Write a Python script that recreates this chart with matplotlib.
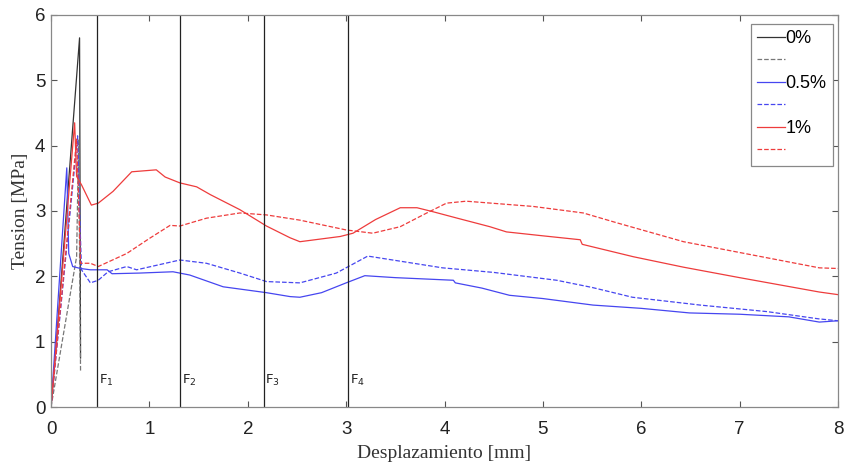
import numpy as np
import matplotlib
matplotlib.use('Agg')
import matplotlib.pyplot as plt

# ==== curves ====
# 0 %
x_0_sol = [0, 0.05, 0.29, 0.30]
y_0_sol = [0, 0.9, 5.65, 0.75]
x_0_das = [0, 0.26, 0.28, 0.30]
y_0_das = [0, 2.3, 4.1, 0.55]

# 0.5 %
x_05_sol = [0, 0.16, 0.18, 0.22, 0.30, 0.40, 0.57, 0.62, 0.90, 1.24, 1.41, 1.75,
            2.19, 2.43, 2.53, 2.75, 3.0, 3.19, 3.5, 4.09, 4.11, 4.38, 4.66, 5.0,
            5.51, 6.0, 6.49, 7.0, 7.5, 7.81, 8.0]
y_05_sol = [0, 3.66, 2.35, 2.15, 2.12, 2.1, 2.1, 2.04, 2.05, 2.07, 2.02, 1.84,
            1.75, 1.69, 1.68, 1.75, 1.90, 2.01, 1.98, 1.94, 1.90, 1.82, 1.71, 1.66,
            1.56, 1.51, 1.44, 1.42, 1.38, 1.30, 1.32]
x_05_das = [0, 0.27, 0.29, 0.31, 0.40, 0.48, 0.58, 0.77, 0.87, 1.31, 1.58, 1.92,
            2.19, 2.53, 2.9, 3.22, 3.6, 3.98, 4.5, 5.14, 5.5, 5.91, 6.6, 7.28,
            7.8, 8.0]
y_05_das = [0, 4.15, 3.0, 2.1, 1.9, 1.94, 2.07, 2.15, 2.1, 2.25, 2.2, 2.05,
            1.92, 1.90, 2.05, 2.31, 2.22, 2.13, 2.06, 1.94, 1.83, 1.68, 1.56, 1.46,
            1.35, 1.32]

# 1 %
x_1_sol = [0, 0.24, 0.26, 0.31, 0.41, 0.48, 0.63, 0.82, 1.07, 1.16, 1.31, 1.48,
           1.62, 1.92, 2.19, 2.43, 2.53, 2.94, 3.07, 3.3, 3.55, 3.72, 3.88, 4.13,
           4.46, 4.63, 5.0, 5.38, 5.40, 5.92, 6.43, 7.0, 7.81, 8.0]
y_1_sol = [0, 4.35, 3.53, 3.4, 3.09, 3.12, 3.3, 3.6, 3.63, 3.52, 3.43, 3.37,
           3.25, 3.02, 2.77, 2.59, 2.53, 2.61, 2.66, 2.87, 3.05, 3.05, 2.99, 2.89,
           2.76, 2.68, 2.62, 2.56, 2.49, 2.3, 2.14, 1.98, 1.76, 1.72]
x_1_das = [0, 0.26, 0.28, 0.30, 0.40, 0.48, 0.77, 1.0, 1.21, 1.31, 1.58, 1.92,
           2.19, 2.53, 3.0, 3.27, 3.55, 3.82, 4.02, 4.22, 4.9, 5.41, 5.75, 6.43,
           7.81, 8.0]
y_1_das = [0, 4.1, 3.2, 2.2, 2.2, 2.15, 2.35, 2.58, 2.78, 2.77, 2.89, 2.97,
           2.94, 2.86, 2.71, 2.66, 2.76, 2.97, 3.12, 3.15, 3.07, 2.97, 2.82, 2.53,
           2.13, 2.12]

# vertical marker lines
f_pos = [0.47, 1.31, 2.16, 3.02]
f_lab = ['F$_1$', 'F$_2$', 'F$_3$', 'F$_4$']

c_k = '#333333'
c_b = '#4646f0'
c_r = '#ee3c3c'
lw = 0.9

fig = plt.figure(figsize=(8.45, 4.68), dpi=100)
ax = fig.add_axes([0.0604, 0.1303, 0.9313, 0.8377])

ax.plot(x_0_sol, y_0_sol, '-', color=c_k, lw=lw, label='0%')
ax.plot(x_0_das, y_0_das, '--', color='#777777', lw=lw, label=' ')
ax.plot(x_05_sol, y_05_sol, '-', color=c_b, lw=lw, label='0.5%')
ax.plot(x_05_das, y_05_das, '--', color=c_b, lw=lw, label=' ')
ax.plot(x_1_sol, y_1_sol, '-', color=c_r, lw=lw, label='1%')
ax.plot(x_1_das, y_1_das, '--', color=c_r, lw=lw, label=' ')

for xf, lab in zip(f_pos, f_lab):
    ax.axvline(xf, color='#222222', lw=0.9)
    ax.text(xf + 0.02, 0.40, lab, fontsize=9.5, color='#222222',
            family='DejaVu Sans', va='center', ha='left')

ax.set_xlim(0, 8)
ax.set_ylim(0, 6)
ax.set_xticks(range(0, 9))
ax.set_yticks(range(0, 7))
ax.tick_params(direction='in', top=True, right=True, labelsize=13.5,
               color='#555555', length=4)
ax.tick_params(axis='x', pad=10)
ax.tick_params(axis='y', pad=4)
for lab in ax.get_xticklabels() + ax.get_yticklabels():
    lab.set_family('Liberation Sans')
    lab.set_color('#222222')
for sp in ax.spines.values():
    sp.set_color('#888888')
    sp.set_linewidth(0.9)

ax.set_xlabel('Desplazamiento [mm]', family='Liberation Serif', fontsize=14,
              color='#333333', labelpad=5)
ax.set_ylabel('Tension [MPa]', family='Liberation Serif', fontsize=14,
              color='#333333', labelpad=4)

leg = ax.legend(loc='upper left', bbox_to_anchor=(0.8895, 0.977), fancybox=False,
                edgecolor='#888888', fontsize=13, handlelength=1.55,
                handletextpad=0.02, labelspacing=0.3, borderpad=0.35,
                framealpha=1, borderaxespad=0)
for t in leg.get_texts():
    t.set_family('Liberation Sans')
leg.get_frame().set_linewidth(0.9)

fig.savefig('out.png', dpi=100)
